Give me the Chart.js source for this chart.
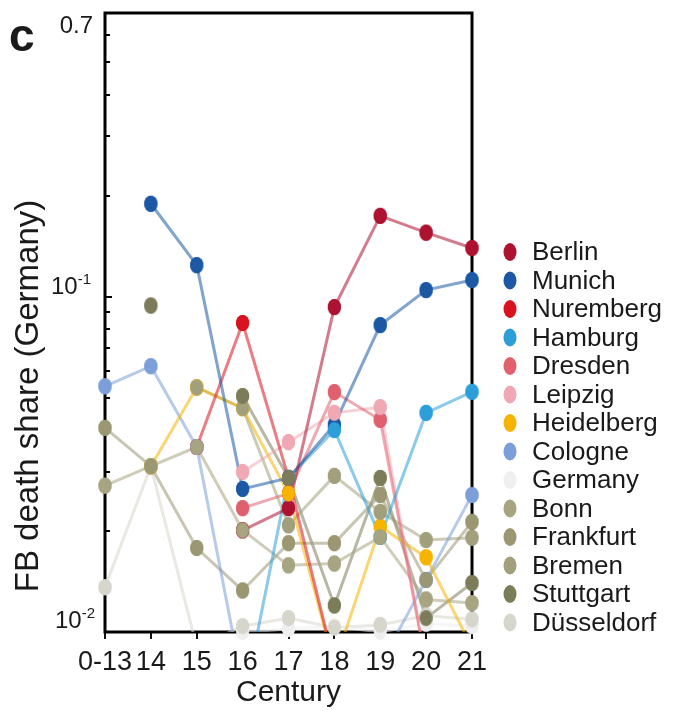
<!DOCTYPE html>
<html>
<head>
<meta charset="utf-8">
<script src="https://cdn.jsdelivr.net/npm/chart.js@4.4.1/dist/chart.umd.min.js"></script>
<style>
  html, body { margin: 0; padding: 0; background: #fff; }
  #wrap { width: 675px; height: 711px; position: relative; }
</style>
</head>
<body>
<div id="wrap"><canvas id="chart"></canvas></div>
<script>
const FONT = "'Liberation Sans', Arial, Helvetica, sans-serif";
const INK = "#1a1a1a";

const centuries = ["0-13", "14", "15", "16", "17", "18", "19", "20", "21"];

const cities = ["Berlin", "Munich", "Nuremberg", "Hamburg", "Dresden", "Leipzig", "Heidelberg",
  "Cologne", "Germany", "Bonn", "Frankfurt", "Bremen", "Stuttgart", "Düsseldorf"];

const cityColors = ["#ad1230", "#1c58a4", "#d9121f", "#2c9fd9", "#e0606e", "#f0a9b4", "#f6b300",
  "#7c9fd9", "#efefef", "#a7a481", "#9a9772", "#a2a07c", "#7d7c5a", "#d7d6cc"];

// FB death share per century (log scale, values < 0.01 fall below the axis)
const berlin     = [null, null, null, 0.0201, 0.0234, 0.093, 0.174, 0.155, 0.1395];
const munich     = [null, 0.189, 0.124, 0.0267, 0.0288, 0.0415, 0.0822, 0.1045, 0.112];
const nuremberg  = [null, null, 0.0356, 0.0834, 0.0288, 0.008, null, null, null];
const hamburg    = [null, null, null, 0.006, 0.0288, 0.040, 0.0192, 0.045, 0.052];
const dresden    = [null, null, null, 0.0234, 0.0259, 0.0519, 0.0429, 0.008, 0.009];
const leipzig    = [null, null, null, 0.030, 0.0368, 0.045, 0.0468, 0.008, 0.009];
const heidelberg = [null, 0.0312, 0.0536, 0.0465, 0.0259, 0.008, 0.0206, 0.0167, 0.009];
const cologne    = [0.054, 0.062, 0.0356, 0.007, 0.008, 0.008, 0.008, 0.0143, 0.0256];
const germany    = [null, null, null, 0.0100, 0.0102, 0.0104, 0.0100, 0.0106, 0.0104];
const bonn       = [0.0273, 0.0312, 0.0356, 0.0201, 0.0158, 0.0160, 0.0192, 0.0125, 0.0122];
const frankfurt  = [0.0406, 0.0312, 0.0178, 0.0133, 0.0184, 0.0184, 0.0256, 0.0143, 0.0213];
const bremen     = [null, null, 0.0536, 0.0465, 0.0208, 0.0292, 0.0228, 0.0188, 0.0191];
const stuttgart  = [null, 0.094, null, 0.0505, 0.0288, 0.012, 0.0288, 0.011, 0.0140];
const duesseldorf = [0.0136, 0.0312, 0.009, 0.0104, 0.0110, 0.0103, 0.0105, 0.0112, 0.0109];

const seriesValues = [berlin, munich, nuremberg, hamburg, dresden, leipzig, heidelberg,
  cologne, germany, bonn, frankfurt, bremen, stuttgart, duesseldorf];

// y axis: minor ticks drawn inside, labels at 0.01, 0.1, 0.7
const yTickValues = [0.02, 0.03, 0.04, 0.05, 0.06, 0.07, 0.08, 0.09, 0.1, 0.2, 0.3, 0.4, 0.5, 0.6];
const yLabelValues = [0.01, 0.1, 0.7];
const yLabelText = [["10", "-2"], ["10", "-1"], ["0.7", ""]];

// order the dots are painted in (pale ones first, olive ones last)
const dotOrder = [8, 13, 0, 1, 2, 3, 4, 5, 6, 7, 9, 10, 11, 12];

function hexA(hex, a) {
  const n = parseInt(hex.slice(1), 16);
  return `rgba(${(n >> 16) & 255}, ${(n >> 8) & 255}, ${n & 255}, ${a})`;
}

function makeDot(color, w, h) {
  const c = document.createElement("canvas");
  c.width = w + 2;
  c.height = h + 2;
  const g = c.getContext("2d");
  g.fillStyle = color;
  g.beginPath();
  g.ellipse((w + 2) / 2, (h + 2) / 2, w / 2, h / 2, 0, 0, Math.PI * 2);
  g.fill();
  return c;
}

const datasets = cities.map((name, i) => ({
  label: name,
  data: seriesValues[i],
  borderColor: hexA(cityColors[i], 0.55),
  backgroundColor: cityColors[i],
  borderWidth: 3,
  pointStyle: makeDot(cityColors[i], 13, 16),
  pointRadius: 6,
  spanGaps: false,
  tension: 0
}));

const decor = {
  id: "decor",
  beforeDatasetsDraw(chart) {
    const { ctx, chartArea: a } = chart;
    const y = chart.scales.y;
    ctx.save();
    ctx.strokeStyle = "#000";
    ctx.lineWidth = 3;
    ctx.strokeRect(a.left, a.top, a.right - a.left, a.bottom - a.top);
    ctx.lineWidth = 2;
    yTickValues.forEach((v) => {
      const py = Math.round(y.getPixelForValue(v));
      ctx.beginPath();
      ctx.moveTo(a.left, py);
      ctx.lineTo(a.left + (v === 0.1 ? 7 : 5), py);
      ctx.stroke();
    });
    ctx.restore();
  },
  afterDatasetsDraw(chart) {
    // dots on top of every line
    const { ctx, chartArea: a } = chart;
    const big = { left: -1e4, right: 1e4, top: -1e4, bottom: 1e4 };
    dotOrder.forEach((i) => {
      const meta = chart.getDatasetMeta(i);
      meta.data.forEach((pt, j) => {
        if (chart.data.datasets[i].data[j] == null) return;
        if (pt.y > a.bottom + 2 || pt.y < a.top - 2) return;
        pt.draw(ctx, big);
      });
    });
  },
  afterDraw(chart) {
    const { ctx } = chart;
    const y = chart.scales.y;
    ctx.save();
    ctx.fillStyle = INK;

    // panel letter
    ctx.font = `bold 46px ${FONT}`;
    ctx.textAlign = "left";
    ctx.textBaseline = "alphabetic";
    ctx.fillText("c", 9, 51);

    // y tick labels
    const shift = [-4, -3, 20];
    const rightEdge = [95, 91, 93];
    yLabelValues.forEach((v, i) => {
      const base = y.getPixelForValue(v) + shift[i];
      const [main, sup] = yLabelText[i];
      ctx.textAlign = "right";
      ctx.font = `15px ${FONT}`;
      const supW = sup ? ctx.measureText(sup).width : 0;
      if (sup) ctx.fillText(sup, rightEdge[i], base - 10);
      ctx.font = `24px ${FONT}`;
      ctx.fillText(main, rightEdge[i] - supW, base);
    });

    // y title
    ctx.save();
    ctx.translate(29, 396);
    ctx.rotate(-Math.PI / 2);
    ctx.textAlign = "center";
    ctx.textBaseline = "middle";
    ctx.font = `33px ${FONT}`;
    ctx.fillText("FB death share (Germany)", 0, 0);
    ctx.restore();

    // legend
    chart.data.datasets.forEach((ds, i) => {
      const ly = 252 + i * 28.5;
      ctx.fillStyle = ds.backgroundColor;
      ctx.beginPath();
      ctx.ellipse(510, ly, 6.5, 9, 0, 0, Math.PI * 2);
      ctx.fill();
      ctx.fillStyle = INK;
      ctx.font = `26px ${FONT}`;
      ctx.textAlign = "left";
      ctx.textBaseline = "middle";
      ctx.fillText(ds.label, 532, ly + 1);
    });
    ctx.restore();
  }
};

new Chart(document.getElementById("chart"), {
  type: "line",
  data: { labels: centuries, datasets },
  options: {
    responsive: true,
    maintainAspectRatio: false,
    animation: false,
    events: [],
    layout: { padding: { left: 0, top: 13, right: 203, bottom: 0 } },
    plugins: { legend: { display: false }, tooltip: { enabled: false } },
    scales: {
      x: {
        type: "category",
        offset: false,
        border: { display: false },
        grid: { display: true, drawOnChartArea: false, drawTicks: true, tickLength: 7, color: "#111", lineWidth: 2 },
        ticks: { font: { family: FONT, size: 27 }, color: INK, padding: 7, maxRotation: 0, autoSkip: false },
        title: { display: true, text: "Century", font: { family: FONT, size: 30, lineHeight: 1 }, color: INK, padding: { top: 0, bottom: 3 } },
        afterFit(s) { s.height = 79; }
      },
      y: {
        type: "logarithmic",
        min: 0.01,
        max: 0.7,
        border: { display: false },
        grid: { display: false },
        ticks: { display: false },
        afterFit(s) { s.width = 105; }
      }
    }
  },
  plugins: [decor]
});
</script>
</body>
</html>
